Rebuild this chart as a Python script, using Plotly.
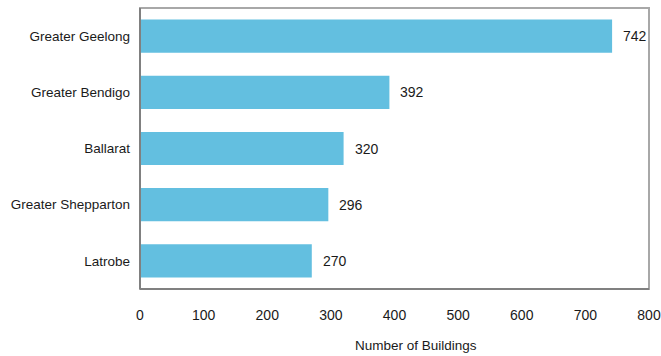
import plotly.graph_objects as go

# Building counts by regional city
regions = ["Greater Geelong", "Greater Bendigo", "Ballarat", "Greater Shepparton", "Latrobe"]
buildings = [742, 392, 320, 296, 270]
x_ticks = [0, 100, 200, 300, 400, 500, 600, 700, 800]

FONT = "Liberation Sans Narrow, Arial Narrow, Liberation Sans, Arial, sans-serif"
FS = 13.5
BAR = "#63BFE0"
INK = "#1a1a1a"

fig = go.Figure(
    go.Bar(
        y=regions,
        x=buildings,
        orientation="h",
        marker=dict(color=BAR, line=dict(width=0)),
        hoverinfo="skip",
    )
)

# value labels just past the end of each bar
for r, v in zip(regions, buildings):
    fig.add_annotation(
        x=v, y=r, text=str(v), showarrow=False,
        xanchor="left", xshift=9,
        font=dict(family=FONT, size=14, color=INK),
    )

# axis title
fig.add_annotation(
    x=0.543, y=0, xref="paper", yref="paper", yanchor="top", yshift=-47,
    text="Number of Buildings", showarrow=False,
    font=dict(family=FONT, size=FS, color=INK),
)

# plot frame: light outline with darker left/bottom axis lines
fig.add_shape(type="rect", xref="paper", yref="paper", x0=0, y0=0, x1=1, y1=1,
              line=dict(color="#A8A8A8", width=2))
fig.add_shape(type="line", xref="paper", yref="paper", x0=0, y0=0, x1=0, y1=1,
              line=dict(color="#808080", width=2))
fig.add_shape(type="line", xref="paper", yref="paper", x0=0, y0=0, x1=1, y1=0,
              line=dict(color="#808080", width=2))

fig.update_layout(
    width=661, height=356,
    margin=dict(l=140, r=12, t=8, b=67),
    paper_bgcolor="white", plot_bgcolor="white",
    bargap=0.41,
    showlegend=False,
    font=dict(family=FONT, size=FS, color=INK),
    xaxis=dict(
        range=[0, 800], tickvals=x_ticks, showgrid=False, zeroline=False,
        showline=False, ticks="", ticklabelstandoff=16, automargin=False,
        tickfont=dict(family=FONT, size=14, color=INK),
    ),
    yaxis=dict(
        categoryorder="array", categoryarray=regions[::-1],
        showgrid=False, zeroline=False, showline=False, ticks="",
        ticklabelstandoff=9, automargin=False,
        tickfont=dict(family=FONT, size=FS, color=INK),
    ),
)

fig.write_html("out.html")
